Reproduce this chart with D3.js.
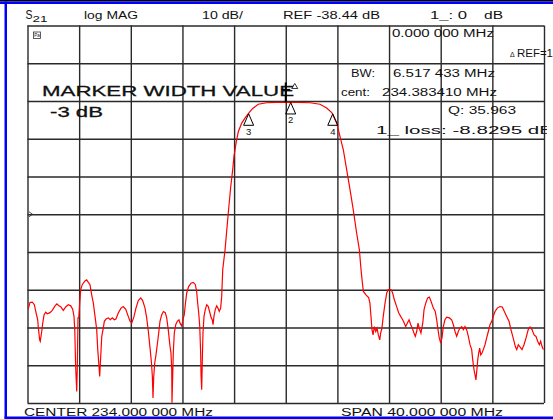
<!DOCTYPE html>
<html>
<head>
<meta charset="utf-8">
<script src="https://cdn.jsdelivr.net/npm/d3@7"></script>
<style>
  body { margin: 0; background: #fff; }
  svg { display: block; font-family: "Liberation Sans", Arial, sans-serif; }
</style>
</head>
<body>
<div id="chart"></div>
<script>
// S21 trace, frequency in MHz and magnitude in dB
const freqMHz = [
  214.06, 214.19, 214.37, 214.53, 214.66, 214.79, 214.84, 214.94, 214.99, 215.10,
  215.18, 215.28, 215.41, 215.53, 215.74, 215.92, 216.13, 216.28, 216.44, 216.59,
  216.77, 216.96, 217.16, 217.35, 217.50, 217.60, 217.66, 217.73, 217.81, 217.86,
  217.91, 217.97, 218.04, 218.12, 218.24, 218.45, 218.58, 218.71, 218.84, 218.97,
  219.10, 219.23, 219.36, 219.44, 219.54, 219.59, 219.67, 219.75, 219.85, 219.95,
  220.08, 220.26, 220.41, 220.57, 220.72, 220.85, 221.03, 221.24, 221.42, 221.61,
  221.76, 221.94, 222.07, 222.25, 222.40, 222.58, 222.77, 222.92, 223.10, 223.23,
  223.36, 223.49, 223.59, 223.67, 223.72, 223.77, 223.85, 223.95, 224.05, 224.16,
  224.26, 224.39, 224.52, 224.67, 224.78, 224.90, 225.04, 225.11, 225.17, 225.19,
  225.25, 225.29, 225.37, 225.48, 225.60, 225.73, 225.81, 225.94, 226.02, 226.07,
  226.14, 226.22, 226.33, 226.48, 226.66, 226.84, 227.00, 227.10, 227.18, 227.26,
  227.34, 227.41, 227.44, 227.49, 227.54, 227.59, 227.67, 227.77, 227.88, 228.00,
  228.13, 228.23, 228.31, 228.37, 228.44, 228.54, 228.65, 228.75, 228.85, 228.96,
  229.04, 229.06, 229.12, 229.30, 229.55, 229.74, 229.89, 229.99, 230.15, 230.33,
  230.59, 230.84, 231.10, 231.44, 231.87, 232.52, 233.30, 233.94, 234.85, 235.88,
  236.65, 237.17, 237.56, 237.95, 238.20, 238.46, 238.72, 238.98, 239.23, 239.49,
  239.70, 239.83, 239.91, 240.01, 240.21, 240.42, 240.52, 240.60, 240.68, 240.76,
  240.86, 240.97, 241.07, 241.17, 241.28, 241.35, 241.45, 241.55, 241.69, 241.82,
  241.94, 242.15, 242.28, 242.41, 242.59, 242.75, 242.90, 243.06, 243.18, 243.29,
  243.41, 243.55, 243.68, 243.80, 243.93, 244.03, 244.14, 244.24, 244.34, 244.47,
  244.61, 244.71, 244.84, 244.99, 245.12, 245.25, 245.43, 245.58, 245.69, 245.79,
  245.89, 246.00, 246.10, 246.20, 246.33, 246.46, 246.67, 246.85, 246.98, 247.11,
  247.24, 247.36, 247.49, 247.63, 247.75, 247.88, 248.01, 248.14, 248.27, 248.40,
  248.48, 248.58, 248.68, 248.73, 248.79, 248.87, 248.94, 249.02, 249.10, 249.20,
  249.30, 249.43, 249.56, 249.69, 249.82, 249.95, 250.07, 250.21, 250.38, 250.59,
  250.77, 250.93, 251.11, 251.29, 251.44, 251.58, 251.68, 251.78, 251.89, 252.01,
  252.14, 252.30, 252.45, 252.61, 252.78, 252.92, 253.07, 253.23, 253.38, 253.51,
  253.64, 253.74, 253.85, 253.95
];
const magDB = [
  -63.6, -61.8, -61.7, -62.4, -64.5, -66.4, -68.5, -71.7, -72.1, -69.5,
  -67.3, -65.1, -64.4, -64.8, -64.5, -63.9, -62.7, -62.2, -62.7, -63.0,
  -63.9, -63.0, -62.4, -62.7, -63.6, -65.5, -69.0, -78.8, -85.4, -78.8,
  -65.9, -65.9, -62.0, -58.4, -57.1, -56.1, -55.8, -56.5, -57.1, -59.8,
  -62.0, -65.5, -69.0, -74.3, -78.8, -81.4, -76.1, -70.8, -69.0, -66.8,
  -66.2, -65.9, -66.4, -65.9, -66.4, -66.2, -64.6, -63.3, -62.9, -63.6,
  -65.1, -66.8, -67.3, -65.5, -63.3, -61.3, -60.6, -61.3, -63.3, -65.9,
  -69.5, -73.9, -77.4, -81.4, -87.1, -81.8, -77.9, -75.7, -73.0, -69.9,
  -66.8, -65.1, -64.2, -64.5, -65.9, -69.0, -73.5, -75.2, -79.6, -88.4,
  -80.5, -75.2, -69.9, -67.7, -66.8, -66.4, -67.3, -68.0, -66.8, -65.9,
  -65.1, -62.4, -59.3, -57.6, -56.7, -56.5, -57.1, -58.9, -62.0, -64.6,
  -68.2, -75.2, -81.0, -84.9, -77.0, -69.9, -65.5, -63.7, -62.4, -62.9,
  -64.6, -65.9, -66.4, -67.7, -65.5, -63.7, -62.7, -63.3, -64.2, -63.3,
  -60.2, -58.4, -53.1, -47.8, -38.1, -31.1, -26.7, -23.1, -19.6, -16.5,
  -14.3, -13.0, -11.8, -10.4, -9.3, -8.9, -8.8, -8.8, -8.8, -8.9,
  -9.3, -10.3, -11.5, -14.3, -17.8, -21.4, -26.7, -32.0, -37.3, -43.4,
  -47.8, -53.1, -55.8, -58.9, -59.8, -60.5, -62.0, -65.5, -69.0, -70.4,
  -68.2, -69.5, -68.6, -70.4, -71.7, -69.9, -68.6, -65.5, -62.0, -59.3,
  -58.4, -58.4, -59.3, -61.1, -62.9, -64.6, -65.5, -66.4, -67.3, -68.2,
  -67.3, -66.4, -67.7, -68.6, -69.9, -70.8, -69.5, -67.3, -68.6, -69.9,
  -67.3, -63.7, -62.0, -60.6, -60.4, -61.5, -63.3, -64.2, -66.4, -69.0,
  -71.2, -72.6, -71.2, -68.2, -66.4, -65.7, -65.9, -66.4, -67.7, -69.5,
  -70.8, -69.5, -68.6, -68.2, -69.0, -68.2, -69.0, -70.8, -73.0, -74.3,
  -77.0, -79.6, -81.4, -82.3, -80.1, -77.0, -75.2, -73.9, -75.7, -75.2,
  -74.3, -73.0, -71.2, -69.5, -67.7, -66.8, -65.5, -64.2, -63.3, -62.9,
  -63.0, -64.2, -65.5, -66.8, -69.0, -70.8, -72.1, -73.5, -74.3, -73.0,
  -73.6, -74.3, -73.0, -71.2, -69.0, -68.3, -69.0, -70.4, -70.8, -72.1,
  -73.0, -72.1, -73.5, -74.3
];

// Screen scaling: center 234 MHz, span 40 MHz, REF -38.44 dB at centre line, 10 dB/div
const gridFreqs = [214, 218, 222, 226, 230, 234, 238, 242, 246, 250, 254];
const gridLevels = [-88.44, -78.44, -68.44, -58.44, -48.44, -38.44, -28.44, -18.44, -8.44, 1.56, 11.56];
const refLevel = -38.44;

// Markers: 1 = active, 2 = centre, 3/4 = -3 dB width points
const markerNames = ['2', '3', '4'];
const markerFreqs = [234.383, 231.125, 237.642];
const markerLevels = [-8.83, -11.83, -11.83];
const activeMarkerFreq = 234.0;
const activeMarkerLevel = -8.83;

const width = 553, height = 419;
const plot = { left: 27.5, right: 544, top: 25.5, bottom: 403 };

const svg = d3.select('#chart')
  .append('svg')
  .attr('width', width)
  .attr('height', height);

const x = d3.scaleLinear()
  .domain([gridFreqs[0], gridFreqs[gridFreqs.length - 1]])
  .range([plot.left, plot.right]);
const y = d3.scaleLinear()
  .domain([gridLevels[0], gridLevels[gridLevels.length - 1]])
  .range([plot.bottom, plot.top]);

// Window borders (blue/black screen frame)
svg.append('rect').attr('x', 0).attr('y', 0).attr('width', width).attr('height', 1.5).attr('fill', '#000');
svg.append('rect').attr('x', 0).attr('y', 1.5).attr('width', width).attr('height', 2.5).attr('fill', '#0000ff');
svg.append('rect').attr('x', 4.5).attr('y', 1.5).attr('width', 2.5).attr('height', 417).attr('fill', '#0000ff');
svg.append('rect').attr('x', 4.5).attr('y', 416.5).attr('width', width).attr('height', 2.5).attr('fill', '#0000ff');

// Grid through axes with full-length ticks
const gridColor = '#2a2a2a';
svg.append('g')
  .attr('transform', `translate(0,${plot.bottom})`)
  .call(d3.axisBottom(x).tickValues(gridFreqs).tickSize(-(plot.bottom - plot.top)).tickFormat(''))
  .call(g => g.select('.domain').remove())
  .call(g => g.selectAll('line').attr('stroke', gridColor).attr('stroke-width', 1.4));
svg.append('g')
  .attr('transform', `translate(${plot.left},0)`)
  .call(d3.axisLeft(y).tickValues(gridLevels).tickSize(-(plot.right - plot.left)).tickFormat(''))
  .call(g => g.select('.domain').remove())
  .call(g => g.selectAll('line').attr('stroke', gridColor).attr('stroke-width', 1.4));

// Text helper: the analyser's wide bitmap font, stretched to the measured width
function label(txt, tx, ty, len, size, anchor) {
  const t = svg.append('text')
    .attr('x', tx)
    .attr('y', ty)
    .attr('font-size', size)
    .attr('fill', '#111')
    .text(txt);
  if (len) t.attr('textLength', len).attr('lengthAdjust', 'spacingAndGlyphs');
  if (anchor) t.attr('text-anchor', anchor);
  return t;
}

// Header line
label('S', 25.5, 19, 7, 12);
label('21', 32.5, 21.5, 15, 9.5);
label('log MAG', 84, 18.5, 54, 10);
label('10 dB/', 202, 18.5, 41, 10);
label('REF -38.44 dB', 283, 18.5, 97, 10);
label('1_: 0', 430, 18.5, 37, 10);
label('dB', 484, 18.5, 19, 10);

// small icon top-left of graticule
svg.append('rect').attr('x', 33.5).attr('y', 32).attr('width', 7).attr('height', 6.5)
  .attr('fill', 'none').attr('stroke', '#333').attr('stroke-width', 0.8);
label('Pa', 34.2, 37.3, 5.6, 5);

// reference position arrow on left edge
svg.append('path')
  .attr('d', `M${plot.left + 1.5},${y(refLevel) - 2.5}L${plot.left + 5},${y(refLevel)}L${plot.left + 1.5},${y(refLevel) + 2.5}`)
  .attr('fill', 'none').attr('stroke', '#333').attr('stroke-width', 0.9);

// Marker readouts
label('0.000 000 MHz', 392, 37, 102, 10);
label('\u0394', 510, 56.5, null, 7);
label('REF=1', 517, 57, 36, 10);
label('BW:', 351, 77, 24, 10);
label('6.517 433 MHz', 393, 77, 102, 10);
label('cent:', 341, 96, 29, 10);
label('234.383410 MHz', 382, 96, 115, 10);
label('Q: 35.963', 448, 114, 68, 10);

svg.append('clipPath').attr('id', 'lossClip')
  .append('rect').attr('x', 0).attr('y', 0).attr('width', 547).attr('height', height);
label('1_ loss: -8.8295 dB', 376, 133.5, 177, 10).attr('clip-path', 'url(#lossClip)');

label('MARKER WIDTH VALUE', 42, 96, 252, 15.5).attr('stroke', '#111').attr('stroke-width', 0.3);
label('-3 dB', 50, 116.5, 53, 15.5).attr('stroke', '#111').attr('stroke-width', 0.3);

// Trace
svg.append('clipPath').attr('id', 'plotClip')
  .append('rect')
  .attr('x', plot.left).attr('y', plot.top)
  .attr('width', plot.right - plot.left).attr('height', plot.bottom - plot.top);

const trace = d3.zip(freqMHz, magDB);
svg.append('path')
  .datum(trace)
  .attr('clip-path', 'url(#plotClip)')
  .attr('fill', 'none')
  .attr('stroke', '#ff0000')
  .attr('stroke-width', 1.2)
  .attr('d', d3.line().x(d => x(d[0])).y(d => y(d[1])));

// Delta markers (hollow triangles with numbers underneath)
markerNames.forEach((name, i) => {
  const mx = x(markerFreqs[i]), my = y(markerLevels[i]);
  svg.append('path')
    .attr('d', `M${mx},${my}L${mx - 5},${my + 11.5}L${mx + 5},${my + 11.5}Z`)
    .attr('fill', 'none').attr('stroke', '#000').attr('stroke-width', 1);
  label(name, mx, my + 21, null, 9.5, 'middle');
});

// Active marker 1 glyph
const ax = x(activeMarkerFreq), ay = y(activeMarkerLevel);
svg.append('line').attr('x1', ax).attr('x2', ax).attr('y1', ay - 20).attr('y2', ay)
  .attr('stroke', '#000').attr('stroke-width', 2);
svg.append('line').attr('x1', ax - 4.5).attr('x2', ax + 4.5).attr('y1', ay - 13).attr('y2', ay - 13)
  .attr('stroke', '#000').attr('stroke-width', 1.2);
svg.append('path')
  .attr('d', `M${ax + 9},${ay - 19}L${ax + 6},${ay - 14}L${ax + 12},${ay - 14}Z`)
  .attr('fill', 'none').attr('stroke', '#000').attr('stroke-width', 0.8);

// Footer
label('CENTER  234.000 000 MHz', 24, 415.5, 189, 10);
label('SPAN  40.000 000 MHz', 341, 415.5, 162, 10);
</script>
</body>
</html>
